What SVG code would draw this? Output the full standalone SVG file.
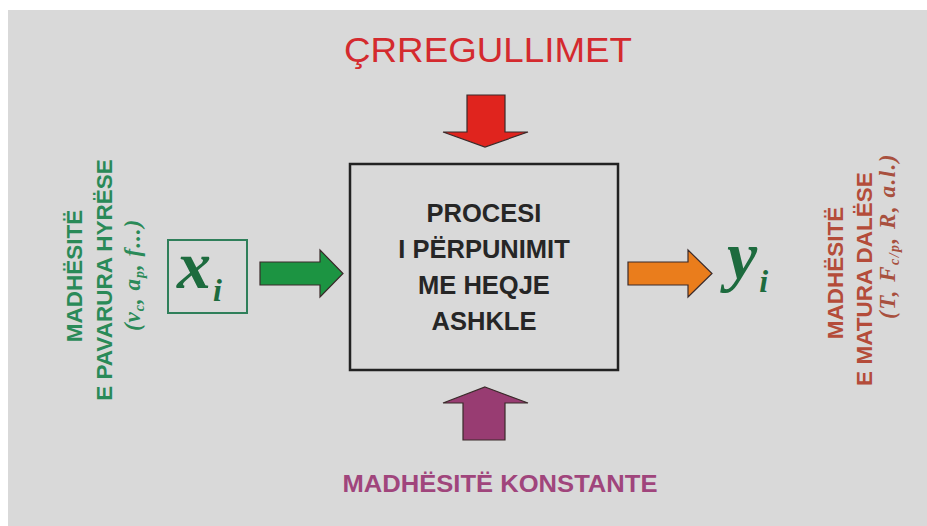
<svg xmlns="http://www.w3.org/2000/svg" width="927" height="526" viewBox="0 0 927 526">
<style>
.bold{font-family:"Liberation Sans",Arial,sans-serif;font-weight:bold}
.reg{font-family:"Liberation Sans",Arial,sans-serif}
.it{font-family:"Liberation Serif","Times New Roman",serif;font-style:italic;font-weight:bold}
.green{fill:#2a8a58}
.brown{fill:#b44c3a}
.arrow{stroke:#3a2a2a;stroke-width:1.2;stroke-linejoin:miter}
</style>
<rect x="0" y="0" width="927" height="526" fill="#ffffff"/>
<rect x="8" y="10" width="919" height="516" fill="#d9d9d9"/>

<g id="disturbances">
<text class="reg" x="488" y="62" font-size="35" fill="#d42a2e" text-anchor="middle" textLength="288" lengthAdjust="spacingAndGlyphs">ÇRREGULLIMET</text>
</g>

<g id="process">
<rect x="350" y="164" width="268" height="206" fill="none" stroke="#222" stroke-width="2.5"/>
<g class="bold" font-size="25.5" fill="#262626" text-anchor="middle">
<text x="484" y="222">PROCESI</text>
<text x="484" y="258">I PËRPUNIMIT</text>
<text x="484" y="294">ME HEQJE</text>
<text x="484" y="330">ASHKLE</text>
</g>
</g>

<g id="input">
<rect x="168" y="240" width="79" height="73" fill="none" stroke="#2f7f5a" stroke-width="2"/>
<text class="it" x="177" y="288" font-size="68" fill="#1d6b3e">x<tspan font-size="32" dx="2" dy="13">i</tspan></text>
</g>

<g id="input-label">
<text class="bold green" font-size="22.5" text-anchor="middle" transform="translate(82,276) rotate(-90)">MADHËSITË</text>
<text class="bold green" font-size="22.5" text-anchor="middle" transform="translate(112,280) rotate(-90)">E PAVARURA HYRËSE</text>
<text class="it green" font-size="23" text-anchor="middle" letter-spacing="1" transform="translate(140,275) rotate(-90)">(v<tspan font-size="14" dy="4">c</tspan><tspan dy="-4">, a</tspan><tspan font-size="14" dy="4">p</tspan><tspan dy="-4">, f...)</tspan></text>
</g>

<g id="output">
<text class="it" x="727" y="279" font-size="68" fill="#1d6b3e">y<tspan font-size="32" dx="2" dy="13">i</tspan></text>
</g>

<g id="output-label">
<text class="bold brown" font-size="22.5" text-anchor="middle" transform="translate(843,273) rotate(-90)">MADHËSITË</text>
<text class="bold brown" font-size="22.5" text-anchor="middle" transform="translate(872,279) rotate(-90)">E MATURA DALËSE</text>
<text class="it" fill="#a8503e" font-size="23" text-anchor="end" letter-spacing="1.5" transform="translate(895,153) rotate(-90)">(T, F<tspan font-size="14" dy="4">c/p</tspan><tspan dy="-4">, R, a.l.)</tspan></text>
</g>

<g id="constants">
<text class="bold" x="500" y="492" font-size="24" fill="#a0457c" text-anchor="middle" textLength="315" lengthAdjust="spacingAndGlyphs">MADHËSITË KONSTANTE</text>
</g>

<g id="connectors">
<polygon class="arrow" fill="#e0241e" points="467,95 505,95 505,132 528,132 485,147 443,132 467,132"/>
<polygon class="arrow" fill="#1c9442" points="260,262 320,262 320,250 343,273.5 320,297 320,285 260,285"/>
<polygon class="arrow" fill="#ea7d1c" points="628,262 688,262 688,250 712,273.5 688,297 688,285 628,285"/>
<polygon class="arrow" fill="#983c72" points="485,387 528,403 505,403 505,440 463,440 463,403 443,403"/>
</g>
</svg>
